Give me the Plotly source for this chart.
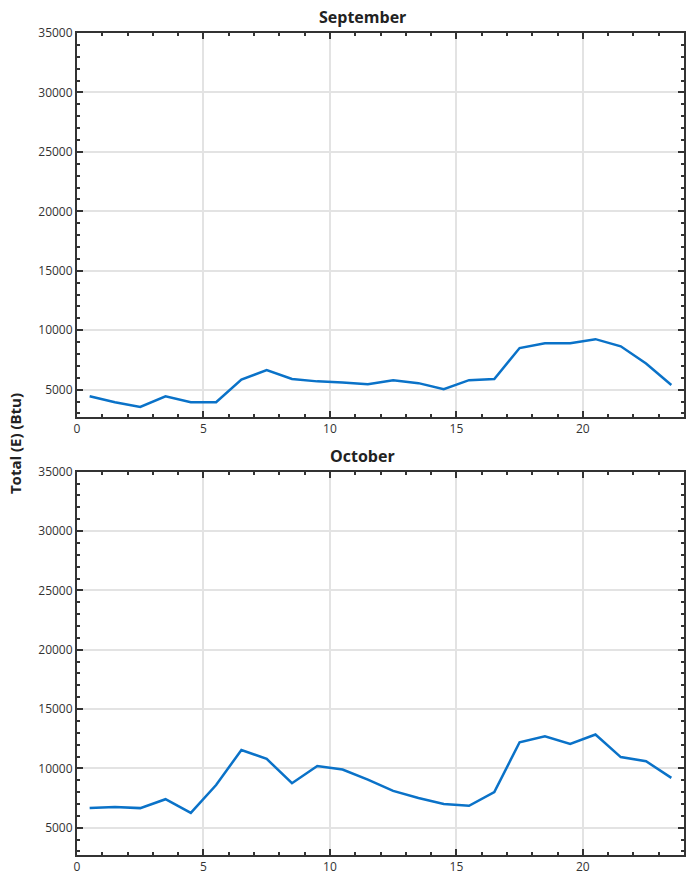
import plotly.graph_objects as go

hours = [0.5 + i for i in range(24)]
september = [4450, 3950, 3550, 4450, 3950, 3950, 5850, 6650, 5900, 5700, 5600, 5450,
             5800, 5550, 5050, 5800, 5900, 8500, 8900, 8900, 9250, 8650, 7200, 5400]
october = [6650, 6750, 6650, 7400, 6250, 8600, 11550, 10800, 8750, 10200, 9900, 9050,
           8100, 7500, 7000, 6850, 8000, 12200, 12700, 12050, 12850, 10950, 10600, 9200]
titles = ["September", "October"]
y_title = "Total (E) (Btu)"

FONT = "Open Sans"
LINE = "#0a72c8"
AX = "#333333"

fig = go.Figure()
fig.add_trace(go.Scatter(x=hours, y=september, mode="lines", xaxis="x", yaxis="y",
                         line=dict(color=LINE, width=2.5), showlegend=False))
fig.add_trace(go.Scatter(x=hours, y=october, mode="lines", xaxis="x2", yaxis="y2",
                         line=dict(color=LINE, width=2.5), showlegend=False))

xcommon = dict(range=[0, 24], dtick=5, tick0=0, ticks="inside", ticklen=6, tickwidth=1.5,
               tickcolor=AX, showline=True, linecolor=AX, linewidth=2, mirror="ticks",
               showgrid=True, gridcolor="#e3e3e3", gridwidth=1.5, zeroline=False,
               tickfont=dict(family=FONT, size=12, color="#333"),
               minor=dict(dtick=1, ticks="inside", ticklen=3, tickcolor=AX, showgrid=False))
ycommon = dict(range=[2700, 35000], dtick=5000, tick0=0, tickformat="d", ticks="inside",
               ticklen=6, tickwidth=1.5, tickcolor=AX, showline=True, linecolor=AX,
               linewidth=2, mirror="ticks", showgrid=True, gridcolor="#e3e3e3",
               gridwidth=1.5, zeroline=False,
               tickfont=dict(family=FONT, size=12, color="#333"),
               minor=dict(dtick=1000, ticks="inside", ticklen=3, tickcolor=AX, showgrid=False))

top_dom = [0.5328, 1.0]
bot_dom = [0.0, 0.4663]

fig.update_layout(
    width=686, height=875,
    margin=dict(l=77, r=2, t=33, b=20, autoexpand=False),
    plot_bgcolor="white", paper_bgcolor="white",
    xaxis=dict(**xcommon, anchor="y", domain=[0, 1]),
    yaxis=dict(**ycommon, anchor="x", domain=top_dom),
    xaxis2=dict(**xcommon, anchor="y2", domain=[0, 1]),
    yaxis2=dict(**ycommon, anchor="x2", domain=bot_dom),
    annotations=[
        dict(text="<b>%s</b>" % titles[0], x=0.471, y=top_dom[1], xref="paper", yref="paper",
             xanchor="center", yanchor="bottom", yshift=3, showarrow=False,
             font=dict(family=FONT, size=16, color="#222")),
        dict(text="<b>%s</b>" % titles[1], x=0.471, y=bot_dom[1], xref="paper", yref="paper",
             xanchor="center", yanchor="bottom", yshift=3, showarrow=False,
             font=dict(family=FONT, size=16, color="#222")),
        dict(text="<b>%s</b>" % y_title, x=-0.102, y=0.5, xref="paper", yref="paper",
             xanchor="center", yanchor="middle", textangle=-90, showarrow=False,
             font=dict(family=FONT, size=15, color="#222")),
    ],
)

fig.write_html("out.html", config={"displayModeBar": False},
               post_script="document.body.style.margin='0';")
